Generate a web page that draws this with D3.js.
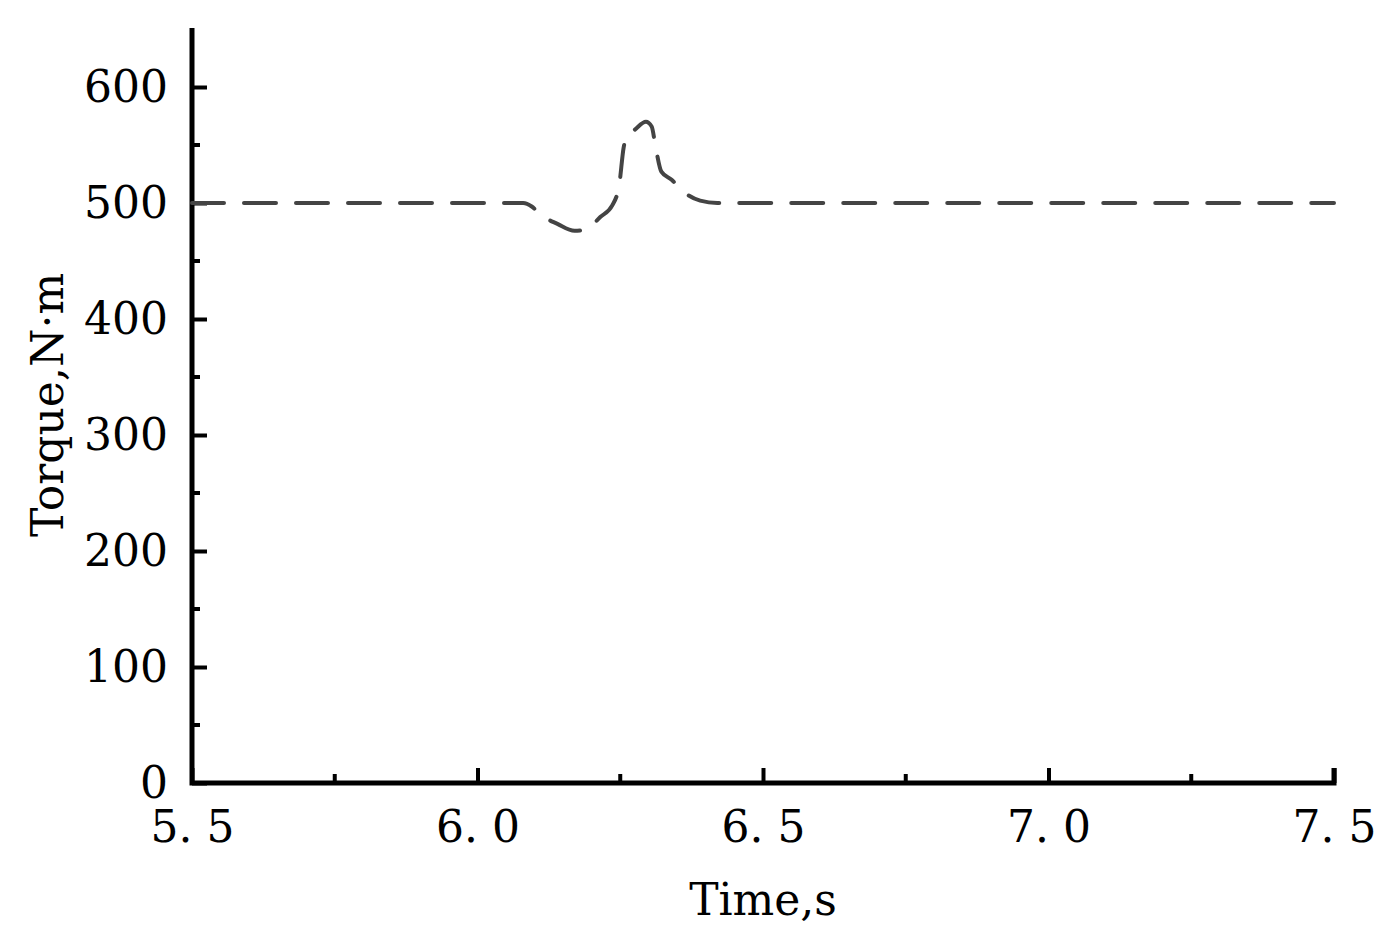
<!DOCTYPE html>
<html><head><meta charset="utf-8">
<script src="https://cdn.jsdelivr.net/npm/d3@7"></script>
<style>body{margin:0;background:#fff}text{font-family:"DejaVu Serif","Liberation Serif",serif}</style>
</head><body><svg id="c" width="1388" height="941"></svg>
<script>
const times   = [5.5, 6.08, 6.095, 6.11, 6.14, 6.17, 6.19, 6.215, 6.236, 6.248, 6.256, 6.262, 6.275, 6.295, 6.305, 6.312, 6.322, 6.34, 6.36, 6.39, 6.42, 7.5];
const torques = [500, 500, 497, 490, 482, 476, 477, 488, 498, 515, 548, 558, 563, 570, 566, 548, 527, 520, 510, 502, 500, 500];
const xTicks = [5.5, 6.0, 6.5, 7.0, 7.5];
const yTicks = [0, 100, 200, 300, 400, 500, 600];

const svg = d3.select('#c');
const x = d3.scaleLinear().domain([5.5, 7.5]).range([192, 1334]);
const y = d3.scaleLinear().domain([0, 600]).range([783, 87]);
const yTop = 28;

// minor ticks
svg.append('g').selectAll('line').data(d3.range(5.75, 7.5, 0.5)).enter().append('line')
  .attr('x1', d => x(d)).attr('x2', d => x(d)).attr('y1', 783).attr('y2', 774)
  .attr('stroke', '#000').attr('stroke-width', 4);
svg.append('g').selectAll('line').data(d3.range(50, 650, 100)).enter().append('line')
  .attr('y1', d => y(d)).attr('y2', d => y(d)).attr('x1', 192).attr('x2', 200)
  .attr('stroke', '#000').attr('stroke-width', 4);

const xAxis = svg.append('g').attr('transform', 'translate(0,783)')
  .call(d3.axisBottom(x).tickValues(xTicks).tickSize(-15).tickPadding(28).tickFormat(d => d.toFixed(1).replace('.', '. ')));
xAxis.select('.domain').remove();
xAxis.selectAll('line').attr('stroke-width', 4);
xAxis.selectAll('text').attr('font-size', 44).attr('fill', '#000');

const yAxis = svg.append('g').attr('transform', 'translate(192,0)')
  .call(d3.axisLeft(y).tickValues(yTicks).tickSize(-15).tickPadding(24));
yAxis.select('.domain').remove();
yAxis.selectAll('line').attr('stroke-width', 4);
yAxis.selectAll('text').attr('font-size', 44).attr('fill', '#000');

svg.append('path').attr('d', `M192,${yTop}V783H1334V768`)
  .attr('fill', 'none').attr('stroke', '#000').attr('stroke-width', 5);

svg.append('path').datum(times.map((t, i) => [t, torques[i]]))
  .attr('d', d3.line().x(d => x(d[0])).y(d => y(d[1])).curve(d3.curveMonotoneX))
  .attr('fill', 'none').attr('stroke', '#444').attr('stroke-width', 4)
  .attr('stroke-dasharray', '32 20').attr('stroke-linecap', 'round');

svg.append('text').attr('x', 763).attr('y', 915).attr('text-anchor', 'middle')
  .attr('font-size', 44).text('Time,s');
svg.append('text').attr('transform', 'translate(63,405) rotate(-90)').attr('text-anchor', 'middle')
  .attr('font-size', 44).text('Torque,N·m');
</script></body></html>
